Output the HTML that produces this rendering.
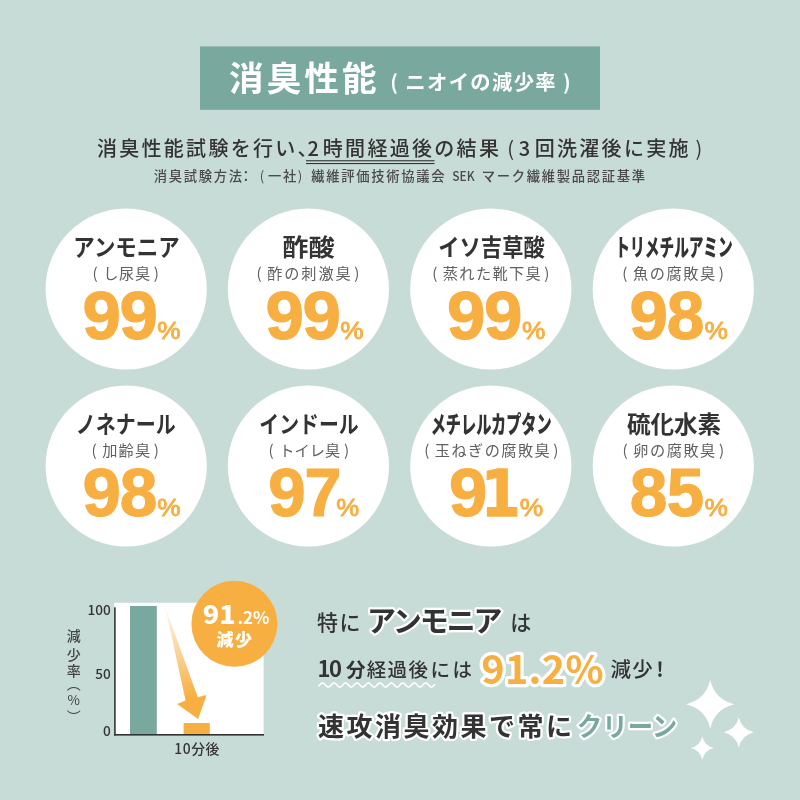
<!DOCTYPE html>
<html lang="ja"><head><meta charset="utf-8"><title>消臭性能</title>
<style>
html,body{margin:0;padding:0;background:#c8dcd7;}
body{width:800px;height:800px;overflow:hidden;position:relative;font-family:"Liberation Sans", "Noto Sans CJK JP", sans-serif;}
svg{display:block;position:absolute;left:0;top:0;}
text{font-family:"Liberation Sans", "Noto Sans CJK JP", sans-serif;}
.jp{font-family:"Noto Sans CJK JP", "Liberation Sans", sans-serif;}
</style></head><body>
<svg width="800" height="800" viewBox="0 0 800 800">
<defs>
<linearGradient id="ag" gradientUnits="userSpaceOnUse" x1="165" y1="607" x2="198" y2="719">
<stop offset="0" stop-color="#f8af42" stop-opacity="0.08"/>
<stop offset="0.8" stop-color="#f8af42" stop-opacity="1"/>
</linearGradient>
</defs>
<rect width="800" height="800" fill="#c8dcd7"/>

<rect x="200" y="46.4" width="400" height="63.4" fill="#78a89e"/>
<text x="229.00" y="90.60" font-size="34.6" font-weight="700" fill="#fff" class="jp" textLength="147.60" lengthAdjust="spacing">消臭性能</text>
<text x="390.30" y="90.00" font-size="20.3" font-weight="700" fill="#fff" class="jp" textLength="180.30" lengthAdjust="spacing">( ニオイの減少率 )</text>
<text x="96.90" y="155.60" font-size="20" font-weight="500" fill="#333333" letter-spacing="2.3">消臭性能試験を行い、</text>
<text x="307.60" y="155.60" font-size="20" font-weight="500" fill="#333333" class="jp">2</text>
<text x="322.80" y="155.60" font-size="20" font-weight="500" fill="#333333" letter-spacing="2.3">時間経過後の結果</text>
<text x="507.30" y="155.60" font-size="20" font-weight="400" fill="#333333" class="jp">(</text>
<text x="518.80" y="155.60" font-size="20" font-weight="500" fill="#333333" class="jp">3</text>
<text x="534.70" y="155.60" font-size="20" font-weight="500" fill="#333333" letter-spacing="2.3">回洗濯後に実施</text>
<text x="695.60" y="155.60" font-size="20" font-weight="400" fill="#333333" class="jp">)</text>
<rect x="306" y="160.2" width="128.5" height="1.1" fill="#333333"/><rect x="306" y="163" width="128.5" height="1.1" fill="#333333"/>
<text x="153.70" y="181.20" font-size="13.3" font-weight="500" fill="#4a4a4a" letter-spacing="1.7">消臭試験方法</text>
<text x="239.20" y="181.20" font-size="13.3" font-weight="500" fill="#4a4a4a">：</text>
<text x="259.80" y="181.20" font-size="13.3" font-weight="400" fill="#4a4a4a" class="jp">(</text>
<text x="267.90" y="181.20" font-size="13.3" font-weight="500" fill="#4a4a4a" letter-spacing="1.7">一社</text>
<text x="297.80" y="181.20" font-size="13.3" font-weight="400" fill="#4a4a4a" class="jp">)</text>
<text x="311.20" y="181.20" font-size="13.3" font-weight="500" fill="#4a4a4a" letter-spacing="1.7">繊維評価技術協議会</text>
<text x="452.30" y="181.20" font-size="13.3" font-weight="500" fill="#4a4a4a" class="jp" textLength="22.40" lengthAdjust="spacingAndGlyphs">SEK</text>
<text x="481.70" y="181.20" font-size="13.3" font-weight="500" fill="#4a4a4a" letter-spacing="1.7">マーク繊維製品認証基準</text>
<circle cx="126.2" cy="289.0" r="80.6" fill="#fff"/>
<text x="73.30" y="255.70" font-size="23.6" font-weight="700" fill="#333333" class="jp" textLength="106.40" lengthAdjust="spacingAndGlyphs">アンモニア</text>
<text x="103.20" y="278.50" font-size="15.2" font-weight="400" fill="#606060" textLength="47.00" lengthAdjust="spacing">し尿臭</text>
<text x="92.60" y="278.50" font-size="15.2" font-weight="400" fill="#606060" class="jp">(</text>
<text x="153.80" y="278.50" font-size="15.2" font-weight="400" fill="#606060" class="jp">)</text>
<text transform="translate(82.51 338.80) scale(0.6897 0.6846)" font-size="100" font-weight="700" fill="#f8af42" style="font-family:'Liberation Sans',sans-serif"  stroke="#f8af42" stroke-width="1.75" stroke-linejoin="round">9</text>
<text transform="translate(119.41 338.80) scale(0.6897 0.6846)" font-size="100" font-weight="700" fill="#f8af42" style="font-family:'Liberation Sans',sans-serif"  stroke="#f8af42" stroke-width="1.75" stroke-linejoin="round">9</text>
<text transform="translate(157.31 339.45) scale(0.2629 0.2384)" font-size="100" font-weight="400" fill="#f8af42" style="font-family:'Liberation Sans',sans-serif"  stroke="#f8af42" stroke-width="3.59" stroke-linejoin="round">%</text>
<circle cx="308.4" cy="289.0" r="80.6" fill="#fff"/>
<text x="282.30" y="255.70" font-size="23.6" font-weight="700" fill="#333333" class="jp" textLength="52.40" lengthAdjust="spacingAndGlyphs">酢酸</text>
<text x="267.20" y="278.50" font-size="15.2" font-weight="400" fill="#606060" textLength="83.50" lengthAdjust="spacing">酢の刺激臭</text>
<text x="256.60" y="278.50" font-size="15.2" font-weight="400" fill="#606060" class="jp">(</text>
<text x="354.30" y="278.50" font-size="15.2" font-weight="400" fill="#606060" class="jp">)</text>
<text transform="translate(265.51 338.80) scale(0.6897 0.6846)" font-size="100" font-weight="700" fill="#f8af42" style="font-family:'Liberation Sans',sans-serif"  stroke="#f8af42" stroke-width="1.75" stroke-linejoin="round">9</text>
<text transform="translate(302.41 338.80) scale(0.6897 0.6846)" font-size="100" font-weight="700" fill="#f8af42" style="font-family:'Liberation Sans',sans-serif"  stroke="#f8af42" stroke-width="1.75" stroke-linejoin="round">9</text>
<text transform="translate(340.31 339.45) scale(0.2629 0.2384)" font-size="100" font-weight="400" fill="#f8af42" style="font-family:'Liberation Sans',sans-serif"  stroke="#f8af42" stroke-width="3.59" stroke-linejoin="round">%</text>
<circle cx="490.8" cy="289.0" r="80.6" fill="#fff"/>
<text x="438.30" y="255.70" font-size="23.6" font-weight="700" fill="#333333" class="jp" textLength="106.40" lengthAdjust="spacingAndGlyphs">イソ吉草酸</text>
<text x="442.80" y="278.50" font-size="15.2" font-weight="400" fill="#606060" textLength="97.90" lengthAdjust="spacing">蒸れた靴下臭</text>
<text x="432.20" y="278.50" font-size="15.2" font-weight="400" fill="#606060" class="jp">(</text>
<text x="544.30" y="278.50" font-size="15.2" font-weight="400" fill="#606060" class="jp">)</text>
<text transform="translate(447.11 338.80) scale(0.6897 0.6846)" font-size="100" font-weight="700" fill="#f8af42" style="font-family:'Liberation Sans',sans-serif"  stroke="#f8af42" stroke-width="1.75" stroke-linejoin="round">9</text>
<text transform="translate(484.01 338.80) scale(0.6897 0.6846)" font-size="100" font-weight="700" fill="#f8af42" style="font-family:'Liberation Sans',sans-serif"  stroke="#f8af42" stroke-width="1.75" stroke-linejoin="round">9</text>
<text transform="translate(521.91 339.45) scale(0.2629 0.2384)" font-size="100" font-weight="400" fill="#f8af42" style="font-family:'Liberation Sans',sans-serif"  stroke="#f8af42" stroke-width="3.59" stroke-linejoin="round">%</text>
<circle cx="673.3" cy="289.0" r="80.6" fill="#fff"/>
<text x="615.30" y="255.70" font-size="24.2" font-weight="900" fill="#333333" class="jp" textLength="117.40" lengthAdjust="spacingAndGlyphs">トリメチルアミン</text>
<text x="632.95" y="278.50" font-size="15.2" font-weight="400" fill="#606060" textLength="82.25" lengthAdjust="spacing">魚の腐敗臭</text>
<text x="622.35" y="278.50" font-size="15.2" font-weight="400" fill="#606060" class="jp">(</text>
<text x="718.80" y="278.50" font-size="15.2" font-weight="400" fill="#606060" class="jp">)</text>
<text transform="translate(629.61 338.80) scale(0.6897 0.6846)" font-size="100" font-weight="700" fill="#f8af42" style="font-family:'Liberation Sans',sans-serif"  stroke="#f8af42" stroke-width="1.75" stroke-linejoin="round">9</text>
<text transform="translate(666.76 338.80) scale(0.6765 0.6846)" font-size="100" font-weight="700" fill="#f8af42" style="font-family:'Liberation Sans',sans-serif"  stroke="#f8af42" stroke-width="1.76" stroke-linejoin="round">8</text>
<text transform="translate(704.41 339.45) scale(0.2629 0.2384)" font-size="100" font-weight="400" fill="#f8af42" style="font-family:'Liberation Sans',sans-serif"  stroke="#f8af42" stroke-width="3.59" stroke-linejoin="round">%</text>
<circle cx="126.2" cy="466.0" r="80.6" fill="#fff"/>
<text x="75.80" y="433.00" font-size="23.6" font-weight="700" fill="#333333" class="jp" textLength="99.90" lengthAdjust="spacingAndGlyphs">ノネナール</text>
<text x="102.20" y="455.50" font-size="15.2" font-weight="400" fill="#606060" textLength="48.00" lengthAdjust="spacing">加齢臭</text>
<text x="91.60" y="455.50" font-size="15.2" font-weight="400" fill="#606060" class="jp">(</text>
<text x="153.80" y="455.50" font-size="15.2" font-weight="400" fill="#606060" class="jp">)</text>
<text transform="translate(82.51 515.80) scale(0.6897 0.6846)" font-size="100" font-weight="700" fill="#f8af42" style="font-family:'Liberation Sans',sans-serif"  stroke="#f8af42" stroke-width="1.75" stroke-linejoin="round">9</text>
<text transform="translate(119.66 515.80) scale(0.6765 0.6846)" font-size="100" font-weight="700" fill="#f8af42" style="font-family:'Liberation Sans',sans-serif"  stroke="#f8af42" stroke-width="1.76" stroke-linejoin="round">8</text>
<text transform="translate(157.31 516.45) scale(0.2629 0.2384)" font-size="100" font-weight="400" fill="#f8af42" style="font-family:'Liberation Sans',sans-serif"  stroke="#f8af42" stroke-width="3.59" stroke-linejoin="round">%</text>
<circle cx="308.4" cy="466.0" r="80.6" fill="#fff"/>
<text x="259.30" y="433.00" font-size="23.6" font-weight="700" fill="#333333" class="jp" textLength="99.40" lengthAdjust="spacingAndGlyphs">インドール</text>
<text x="279.20" y="455.50" font-size="15.2" font-weight="400" fill="#606060" textLength="61.10" lengthAdjust="spacing">トイレ臭</text>
<text x="268.60" y="455.50" font-size="15.2" font-weight="400" fill="#606060" class="jp">(</text>
<text x="343.90" y="455.50" font-size="15.2" font-weight="400" fill="#606060" class="jp">)</text>
<text transform="translate(268.27 515.80) scale(0.6721 0.6846)" font-size="100" font-weight="700" fill="#f8af42" style="font-family:'Liberation Sans',sans-serif"  stroke="#f8af42" stroke-width="1.77" stroke-linejoin="round">9</text>
<text transform="translate(304.50 515.80) scale(0.6618 0.6846)" font-size="100" font-weight="700" fill="#f8af42" style="font-family:'Liberation Sans',sans-serif"  stroke="#f8af42" stroke-width="1.78" stroke-linejoin="round">7</text>
<text transform="translate(336.28 516.45) scale(0.2586 0.2384)" font-size="100" font-weight="400" fill="#f8af42" style="font-family:'Liberation Sans',sans-serif"  stroke="#f8af42" stroke-width="3.62" stroke-linejoin="round">%</text>
<circle cx="490.8" cy="466.0" r="80.6" fill="#fff"/>
<text x="430.70" y="433.00" font-size="24.2" font-weight="900" fill="#333333" class="jp" textLength="121.00" lengthAdjust="spacingAndGlyphs">メチレルカプタン</text>
<text x="434.80" y="455.50" font-size="15.2" font-weight="400" fill="#606060" textLength="114.90" lengthAdjust="spacing">玉ねぎの腐敗臭</text>
<text x="424.20" y="455.50" font-size="15.2" font-weight="400" fill="#606060" class="jp">(</text>
<text x="553.30" y="455.50" font-size="15.2" font-weight="400" fill="#606060" class="jp">)</text>
<text transform="translate(448.96 515.80) scale(0.6876 0.6846)" font-size="100" font-weight="700" fill="#f8af42" style="font-family:'Liberation Sans',sans-serif"  stroke="#f8af42" stroke-width="1.75" stroke-linejoin="round">9</text>
<text transform="translate(480.87 515.80) scale(0.5747 0.6461)" font-size="100" font-weight="700" fill="#f8af42" style="font-family:'DejaVu Sans',sans-serif"  stroke="#f8af42" stroke-width="1.97" stroke-linejoin="round">1</text>
<text transform="translate(519.71 516.45) scale(0.2641 0.2384)" font-size="100" font-weight="400" fill="#f8af42" style="font-family:'Liberation Sans',sans-serif"  stroke="#f8af42" stroke-width="3.58" stroke-linejoin="round">%</text>
<circle cx="673.3" cy="466.0" r="80.6" fill="#fff"/>
<text x="626.90" y="433.00" font-size="23.6" font-weight="700" fill="#333333" class="jp" textLength="94.20" lengthAdjust="spacingAndGlyphs">硫化水素</text>
<text x="633.20" y="455.50" font-size="15.2" font-weight="400" fill="#606060" textLength="82.10" lengthAdjust="spacing">卵の腐敗臭</text>
<text x="622.60" y="455.50" font-size="15.2" font-weight="400" fill="#606060" class="jp">(</text>
<text x="718.90" y="455.50" font-size="15.2" font-weight="400" fill="#606060" class="jp">)</text>
<text transform="translate(629.86 515.80) scale(0.6765 0.6846)" font-size="100" font-weight="700" fill="#f8af42" style="font-family:'Liberation Sans',sans-serif"  stroke="#f8af42" stroke-width="1.76" stroke-linejoin="round">8</text>
<text transform="translate(666.83 515.80) scale(0.6714 0.6846)" font-size="100" font-weight="700" fill="#f8af42" style="font-family:'Liberation Sans',sans-serif"  stroke="#f8af42" stroke-width="1.77" stroke-linejoin="round">5</text>
<text transform="translate(704.41 516.45) scale(0.2629 0.2384)" font-size="100" font-weight="400" fill="#f8af42" style="font-family:'Liberation Sans',sans-serif"  stroke="#f8af42" stroke-width="3.59" stroke-linejoin="round">%</text>
<rect x="114.2" y="602.8" width="149.4" height="132.2" fill="#fff"/>
<rect x="130" y="606" width="26.8" height="129" fill="#78a89e"/>
<rect x="183.6" y="723" width="26.2" height="12" fill="#f8af42"/>
<path d="M165.3 607.5 L197.8 697.2 L206.6 695 L198.1 719 L177.1 704 L185.6 700.6 Z" fill="url(#ag)"/>
<rect x="114.1" y="607.3" width="1.6" height="128.3" fill="#333333"/>
<rect x="114.1" y="734" width="149.9" height="1.6" fill="#333333"/>
<text x="110.70" y="615.20" font-size="13.6" font-weight="500" fill="#333333" class="jp" text-anchor="end">100</text>
<text x="110.70" y="678.50" font-size="13.6" font-weight="500" fill="#333333" class="jp" text-anchor="end">50</text>
<text x="110.70" y="735.90" font-size="13.6" font-weight="500" fill="#333333" class="jp" text-anchor="end">0</text>
<text x="174.20" y="754.40" font-size="13.9" font-weight="500" fill="#333333" class="jp" textLength="45.30" lengthAdjust="spacing">10分後</text>
<text x="73.80" y="641.30" font-size="14" font-weight="500" fill="#444" class="jp" text-anchor="middle">減</text>
<text x="73.80" y="659.70" font-size="14" font-weight="500" fill="#444" class="jp" text-anchor="middle">少</text>
<text x="73.80" y="676.10" font-size="14" font-weight="500" fill="#444" class="jp" text-anchor="middle">率</text>
<text class="jp" x="73.8" y="676.5" font-size="14" font-weight="400" fill="#444" style="writing-mode:vertical-rl">（</text>
<text class="jp" x="73.8" y="709.8" font-size="14" font-weight="400" fill="#444" style="writing-mode:vertical-rl">）</text>
<text x="73.80" y="705.30" font-size="13.5" font-weight="400" fill="#444" class="jp" text-anchor="middle">%</text>
<circle cx="234.4" cy="623.8" r="43" fill="#f8af42"/>
<text x="202.80" y="624.30" font-size="24.6" font-weight="900" fill="#fff" class="jp" textLength="33.00" lengthAdjust="spacingAndGlyphs">91</text>
<text x="237.50" y="624.30" font-size="17" font-weight="700" fill="#fff" class="jp" textLength="32.00" lengthAdjust="spacingAndGlyphs">.2%</text>
<text x="216.60" y="646.30" font-size="17" font-weight="900" fill="#fff" class="jp" textLength="35.40" lengthAdjust="spacing">減少</text>
<text x="317.00" y="629.80" font-size="21" font-weight="500" fill="#333333" letter-spacing="1.5" class="jp">特に</text>
<text x="367.00" y="631.70" font-size="29" font-weight="700" fill="#333333" class="jp" textLength="135.60" lengthAdjust="spacing" stroke="#fff" stroke-linejoin="round" paint-order="stroke" stroke-width="4.5">アンモニア</text>
<text x="510.30" y="629.80" font-size="21" font-weight="500" fill="#333333" class="jp">は</text>
<text x="317.60" y="677.20" font-size="22" font-weight="700" fill="#333333" class="jp">1</text>
<text x="329.00" y="677.20" font-size="22" font-weight="700" fill="#333333" class="jp">0</text>
<text x="346.00" y="677.20" font-size="19.5" font-weight="700" fill="#333333" class="jp">分</text>
<text x="366.80" y="677.20" font-size="19.5" font-weight="500" fill="#333333" letter-spacing="1.3" class="jp">経過後</text>
<text x="430.60" y="677.20" font-size="19.5" font-weight="500" fill="#333333" letter-spacing="2.4" class="jp">には</text>
<polyline points="318.8,686.0 319.4,685.5 320.0,684.8 320.5,684.2 321.1,683.7 321.7,683.3 322.3,683.0 322.9,683.0 323.4,683.2 324.0,683.5 324.6,684.0 325.2,684.6 325.7,685.2 326.3,685.9 326.9,686.4 327.5,686.8 328.1,687.0 328.6,687.0 329.2,686.8 329.8,686.4 330.4,685.9 331.0,685.3 331.5,684.7 332.1,684.1 332.7,683.6 333.3,683.2 333.9,683.0 334.4,683.0 335.0,683.2 335.6,683.6 336.2,684.1 336.7,684.8 337.3,685.4 337.9,686.0 338.5,686.5 339.1,686.8 339.6,687.0 340.2,687.0 340.8,686.7 341.4,686.3 342.0,685.8 342.5,685.2 343.1,684.5 343.7,684.0 344.3,683.5 344.9,683.1 345.4,683.0 346.0,683.1 346.6,683.3 347.2,683.7 347.8,684.3 348.3,684.9 348.9,685.5 349.5,686.1 350.1,686.6 350.6,686.9 351.2,687.0 351.8,686.9 352.4,686.6 353.0,686.2 353.5,685.7 354.1,685.0 354.7,684.4 355.3,683.8 355.9,683.4 356.4,683.1 357.0,683.0 357.6,683.1 358.2,683.4 358.8,683.8 359.3,684.4 359.9,685.0 360.5,685.7 361.1,686.2 361.6,686.7 362.2,686.9 362.8,687.0 363.4,686.9 364.0,686.6 364.5,686.1 365.1,685.5 365.7,684.9 366.3,684.3 366.9,683.7 367.4,683.3 368.0,683.1 368.6,683.0 369.2,683.2 369.8,683.5 370.3,684.0 370.9,684.5 371.5,685.2 372.1,685.8 372.6,686.3 373.2,686.7 373.8,687.0 374.4,687.0 375.0,686.8 375.5,686.5 376.1,686.0 376.7,685.4 377.3,684.7 377.9,684.1 378.4,683.6 379.0,683.2 379.6,683.0 380.2,683.0 380.8,683.2 381.3,683.6 381.9,684.1 382.5,684.7 383.1,685.3 383.6,685.9 384.2,686.4 384.8,686.8 385.4,687.0 386.0,687.0 386.5,686.8 387.1,686.4 387.7,685.8 388.3,685.2 388.9,684.6 389.4,684.0 390.0,683.5 390.6,683.2 391.2,683.0 391.8,683.0 392.3,683.3 392.9,683.7 393.5,684.2 394.1,684.8 394.6,685.5 395.2,686.0 395.8,686.5 396.4,686.9 397.0,687.0 397.5,686.9 398.1,686.7 398.7,686.3 399.3,685.7 399.9,685.1 400.4,684.5 401.0,683.9 401.6,683.4 402.2,683.1 402.8,683.0 403.3,683.1 403.9,683.4 404.5,683.8 405.1,684.3 405.6,685.0 406.2,685.6 406.8,686.2 407.4,686.6 408.0,686.9 408.5,687.0 409.1,686.9 409.7,686.6 410.3,686.2 410.9,685.6 411.4,685.0 412.0,684.3 412.6,683.8 413.2,683.3 413.8,683.1 414.3,683.0 414.9,683.1 415.5,683.4 416.1,683.9 416.7,684.5 417.2,685.1 417.8,685.7 418.4,686.3 419.0,686.7 419.5,686.9 420.1,687.0 420.7,686.8 421.3,686.5 421.9,686.0 422.4,685.4 423.0,684.8 423.6,684.2 424.2,683.7 424.8,683.3 425.3,683.0 425.9,683.0 426.5,683.2 427.1,683.5 427.7,684.0 428.2,684.6 428.8,685.3 429.4,685.9 430.0,686.4 430.5,686.8 431.1,687.0 431.7,687.0 432.3,686.8 432.9,686.4 433.4,685.9 434.0,685.3 434.6,684.7" fill="none" stroke="#fff" stroke-width="1.6" stroke-linecap="round" stroke-linejoin="round"/>
<text x="481.30" y="683.80" font-size="39.6" font-weight="700" fill="#f8af42" letter-spacing="0.3" class="jp" stroke="#fff" stroke-linejoin="round" paint-order="stroke" stroke-width="6.5">91.2%</text>
<text x="610.40" y="677.00" font-size="20.5" font-weight="500" fill="#333333" letter-spacing="1.3" class="jp">減少</text>
<text x="656.20" y="677.00" font-size="20" font-weight="700" fill="#333333" class="jp">!</text>
<text x="317.90" y="735.80" font-size="26" font-weight="700" fill="#333333" class="jp" textLength="254.00" lengthAdjust="spacing" stroke="#fff" stroke-linejoin="round" paint-order="stroke" stroke-width="4.5">速攻消臭効果で常に</text>
<text x="576.80" y="735.80" font-size="26.5" font-weight="700" fill="#78a89e" class="jp" textLength="100.50" lengthAdjust="spacingAndGlyphs" stroke="#fff" stroke-linejoin="round" paint-order="stroke" stroke-width="4.5">クリーン</text>
<path fill="#fff" d="M710.2 680.1 Q714.8 699.7 734.4 704.3 Q714.8 708.9 710.2 728.5 Q705.6 708.9 686.0 704.3 Q705.6 699.7 710.2 680.1Z"/>
<path fill="#fff" d="M738.8 717.2 Q741.6 729.4 753.8 732.2 Q741.6 735.1 738.8 747.2 Q735.9 735.1 723.8 732.2 Q735.9 729.4 738.8 717.2Z"/>
<path fill="#fff" d="M702.3 736.4 Q704.5 745.8 713.9 748.0 Q704.5 750.2 702.3 759.6 Q700.1 750.2 690.7 748.0 Q700.1 745.8 702.3 736.4Z"/>
</svg></body></html>
